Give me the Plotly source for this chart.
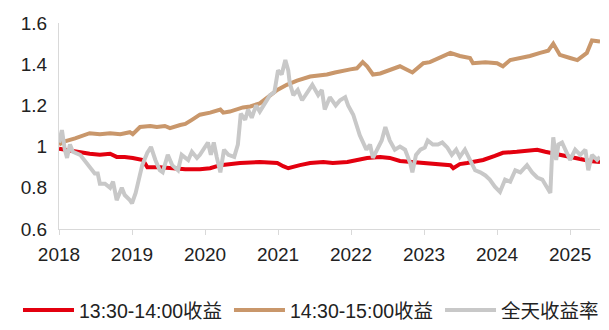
import plotly.graph_objects as go

# Net value curves, time given as decimal year
t_1330 = [2018.00, 2018.15, 2018.29, 2018.42, 2018.56, 2018.70, 2018.79, 2018.90, 2019.01, 2019.15,
          2019.21, 2019.38, 2019.56, 2019.73, 2019.93, 2020.07, 2020.21, 2020.34, 2020.48, 2020.75,
          2020.99, 2021.07, 2021.14, 2021.30, 2021.44, 2021.62, 2021.75, 2021.95, 2022.08, 2022.22,
          2022.40, 2022.53, 2022.67, 2022.81, 2022.95, 2023.22, 2023.36, 2023.40, 2023.49, 2023.59,
          2023.81, 2023.97, 2024.08, 2024.27, 2024.45, 2024.55, 2024.66, 2024.73, 2024.96, 2025.14,
          2025.27, 2025.41]
v_1330 = [0.99, 0.98, 0.97, 0.965, 0.96, 0.965, 0.95, 0.95, 0.945, 0.935,
          0.90, 0.90, 0.895, 0.89, 0.89, 0.895, 0.91, 0.915, 0.92, 0.925,
          0.92, 0.905, 0.895, 0.91, 0.92, 0.925, 0.92, 0.925, 0.935, 0.945,
          0.95, 0.945, 0.93, 0.925, 0.92, 0.915, 0.91, 0.895, 0.915, 0.92,
          0.935, 0.955, 0.97, 0.975, 0.98, 0.985, 0.975, 0.97, 0.95, 0.94,
          0.93, 0.925]

t_1430 = [2018.00, 2018.08, 2018.22, 2018.36, 2018.42, 2018.56, 2018.70, 2018.84, 2018.97, 2019.01,
          2019.11, 2019.25, 2019.34, 2019.45, 2019.52, 2019.66, 2019.73, 2019.82, 2019.93, 2020.07,
          2020.21, 2020.25, 2020.34, 2020.52, 2020.62, 2020.75, 2020.86, 2020.99, 2021.12, 2021.26,
          2021.44, 2021.58, 2021.67, 2021.78, 2021.89, 2021.99, 2022.08, 2022.16, 2022.22, 2022.30,
          2022.40, 2022.53, 2022.67, 2022.84, 2022.99, 2023.08, 2023.22, 2023.36, 2023.49, 2023.63,
          2023.67, 2023.84, 2024.00, 2024.08, 2024.18, 2024.32, 2024.45, 2024.59, 2024.70, 2024.77,
          2024.82, 2024.86, 2025.00, 2025.10, 2025.23, 2025.30, 2025.41]
v_1430 = [1.01, 1.025, 1.04, 1.06, 1.065, 1.06, 1.065, 1.06, 1.07, 1.06,
          1.095, 1.10, 1.095, 1.10, 1.09, 1.105, 1.11, 1.13, 1.155, 1.165,
          1.18, 1.165, 1.17, 1.19, 1.195, 1.21, 1.24, 1.275, 1.30, 1.32,
          1.34, 1.345, 1.35, 1.36, 1.37, 1.375, 1.38, 1.41, 1.39, 1.35,
          1.355, 1.37, 1.39, 1.36, 1.405, 1.41, 1.43, 1.455, 1.44, 1.43,
          1.405, 1.41, 1.405, 1.39, 1.42, 1.43, 1.44, 1.455, 1.465, 1.50,
          1.47, 1.445, 1.43, 1.42, 1.455, 1.515, 1.51]

t_day = [2018.00, 2018.04, 2018.08, 2018.11, 2018.15, 2018.19, 2018.29, 2018.40, 2018.49, 2018.53,
         2018.56, 2018.63, 2018.70, 2018.74, 2018.79, 2018.86, 2018.90, 2018.97, 2019.00, 2019.05,
         2019.14, 2019.21, 2019.26, 2019.32, 2019.38, 2019.42, 2019.49, 2019.55, 2019.63, 2019.68,
         2019.77, 2019.82, 2019.89, 2019.93, 2020.00, 2020.04, 2020.08, 2020.12, 2020.16, 2020.21,
         2020.26, 2020.32, 2020.40, 2020.45, 2020.49, 2020.55, 2020.59, 2020.64, 2020.70, 2020.75,
         2020.82, 2020.89, 2020.95, 2021.00, 2021.05, 2021.10, 2021.14, 2021.16, 2021.21, 2021.27,
         2021.33, 2021.40, 2021.47, 2021.55, 2021.60, 2021.64, 2021.71, 2021.79, 2021.85, 2021.92,
         2021.96, 2022.03, 2022.12, 2022.21, 2022.26, 2022.30, 2022.36, 2022.42, 2022.47, 2022.53,
         2022.60, 2022.67, 2022.74, 2022.81, 2022.84, 2022.89, 2022.95, 2023.01, 2023.05, 2023.12,
         2023.19, 2023.25, 2023.32, 2023.38, 2023.44, 2023.49, 2023.56, 2023.63, 2023.70, 2023.77,
         2023.84, 2023.90, 2023.97, 2024.04, 2024.11, 2024.18, 2024.25, 2024.32, 2024.41, 2024.48,
         2024.55, 2024.62, 2024.68, 2024.73, 2024.75, 2024.77, 2024.81, 2024.84, 2024.89, 2024.95,
         2025.00, 2025.07, 2025.14, 2025.21, 2025.25, 2025.30, 2025.37, 2025.41]
v_day = [1.02, 1.08, 0.985, 0.945, 1.01, 0.975, 0.96, 0.91, 0.87, 0.87,
         0.82, 0.82, 0.80, 0.83, 0.74, 0.80, 0.765, 0.74, 0.725, 0.775,
         0.91, 0.97, 0.998, 0.935, 0.885, 0.875, 0.96, 0.91, 0.885, 0.96,
         0.935, 0.975, 0.945, 0.96, 1.00, 1.02, 0.96, 1.02, 0.95, 0.875,
         0.985, 0.96, 0.95, 1.01, 1.16, 1.13, 1.18, 1.14, 1.20, 1.17,
         1.21, 1.25, 1.265, 1.37, 1.35, 1.42, 1.37, 1.31, 1.25, 1.275,
         1.225, 1.26, 1.30, 1.25, 1.275, 1.18, 1.24, 1.20, 1.225, 1.24,
         1.20, 1.155, 1.055, 0.985, 1.01, 0.945, 0.985, 1.03, 1.095, 1.03,
         0.985, 1.00, 0.985, 0.92, 0.875, 0.96, 0.985, 0.995, 1.03, 1.01,
         1.01, 1.02, 0.995, 0.96, 0.985, 0.95, 0.985, 0.935, 0.885, 0.875,
         0.86, 0.84, 0.805, 0.78, 0.84, 0.83, 0.885, 0.875, 0.91, 0.875,
         0.85, 0.84, 0.805, 0.775, 0.935, 1.045, 0.935, 1.01, 1.02, 0.975,
         0.935, 0.985, 0.96, 0.985, 0.885, 0.96, 0.935, 0.95]

year_ticks = [2018, 2019, 2020, 2021, 2022, 2023, 2024, 2025]
year_labels = ["2018", "2019", "2020", "2021", "2022", "2023", "2024", "2025"]
y_ticks = [0.6, 0.8, 1.0, 1.2, 1.4, 1.6]
y_labels = ["0.6", "0.8", "1", "1.2", "1.4", "1.6"]

names = ["13:30-14:00收益", "14:30-15:00收益", "全天收益率"]
colors = ["#E3000F", "#C9976B", "#C8C8C8"]
legend_ids = ["legend", "legend2", "legend3"]
legend_x = [-0.0758, 0.3142, 0.7043]

fig = go.Figure()
for name, xs, ys, c, lg in zip(names, [t_1330, t_1430, t_day], [v_1330, v_1430, v_day],
                               colors, legend_ids):
    fig.add_trace(go.Scatter(x=xs, y=ys, mode="lines", name=name, legend=lg,
                             line=dict(color=c, width=4)))

font_family = "Liberation Sans, Arial, Noto Sans CJK SC, sans-serif"
legend_style = dict(orientation="h", xanchor="left", y=-0.30, yanchor="top",
                    font=dict(size=19.5, color="#222222"), itemwidth=51,
                    bgcolor="rgba(0,0,0,0)")

fig.update_layout(
    width=609, height=330,
    margin=dict(l=59, r=9, t=23, b=101, autoexpand=False),
    paper_bgcolor="white", plot_bgcolor="white",
    font=dict(family=font_family, size=19, color="#222222"),
    showlegend=True,
    xaxis=dict(range=[2018, 2025.41], tickvals=year_ticks, ticktext=year_labels,
               showgrid=False, zeroline=False, showline=True, linecolor="#D9D9D9",
               linewidth=1, ticks="outside", ticklen=5, tickcolor="#D9D9D9",
               ticklabelstandoff=3),
    yaxis=dict(range=[0.6, 1.6], tickvals=y_ticks, ticktext=y_labels,
               showgrid=False, zeroline=False, showline=True, linecolor="#D9D9D9",
               linewidth=1, ticks="", ticklabelstandoff=7),
)
for lg, lx in zip(legend_ids, legend_x):
    fig.update_layout({lg: dict(legend_style, x=lx)})

fig.write_html("out.html")
